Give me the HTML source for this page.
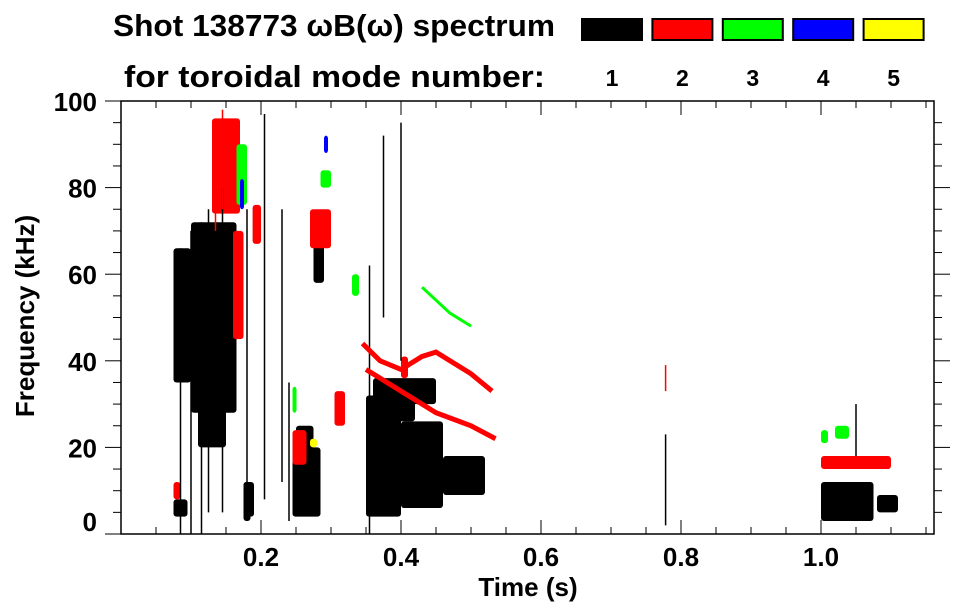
<!DOCTYPE html>
<html><head><meta charset="utf-8"><style>
html,body{margin:0;padding:0;background:#fff;}
svg{display:block;font-family:"Liberation Sans",sans-serif;font-weight:bold;}
</style></head><body>
<svg id="chart" width="963" height="615" viewBox="0 0 963 615" xmlns="http://www.w3.org/2000/svg">
<text x="113" y="36" font-size="31" textLength="442" lengthAdjust="spacingAndGlyphs">Shot 138773 ωB(ω) spectrum</text>
<text x="124" y="87" font-size="31" textLength="421" lengthAdjust="spacingAndGlyphs">for toroidal mode number:</text>
<g id="legend"></g>
<g id="marks"></g>
<g id="axes"></g>
<text x="528" y="596" font-size="26" text-anchor="middle">Time (s)</text>
<text transform="translate(34,316) rotate(-90)" font-size="26" text-anchor="middle">Frequency (kHz)</text>
</svg>
<script>
// data
const modeLabels = ["1","2","3","4","5"];
const modeColors = ["#000000","#ff0000","#00ff00","#0000ff","#ffff00"];
const xTicks = [0.2,0.4,0.6,0.8,1.0];
const xTickLabels = ["0.2","0.4","0.6","0.8","1.0"];
const yTicks = [0,20,40,60,80,100];
// blobs: [mode, t0, t1, f0, f1]
const blobModes = [1,1,1,1,1,1,1,1,1,1,1,1,1,1,1,1, 2,2,2,2,2,2,2,2,2, 3,3,3,3,3,3, 4,4, 5];
const blobT0 = [0.075,0.1,0.11,0.175,0.245,0.25,0.275,0.35,0.40,0.46,0.37,1.0,1.08,0.175,0.075,0.36,
  0.13,0.16,0.188,0.27,0.245,0.305,1.0,0.075,0.4,
  0.165,0.285,0.33,0.245,1.0,1.02,
  0.17,0.29, 0.27];
const blobT1 = [0.1,0.165,0.15,0.185,0.285,0.275,0.29,0.40,0.46,0.52,0.42,1.075,1.11,0.19,0.095,0.45,
  0.17,0.175,0.2,0.3,0.265,0.32,1.1,0.085,0.41,
  0.18,0.3,0.34,0.25,1.01,1.04,
  0.17,0.29, 0.28];
const blobF0 = [35,28,20,3,4,10,58,4,6,9,26,3,5,4,4,30,
  74,45,67,66,16,25,15,8,36,
  76,80,55,28,21,22,
  75,88, 20];
const blobF1 = [66,72,40,12,20,25,70,32,26,18,34,12,9,12,8,36,
  96,70,76,75,24,33,18,12,41,
  90,84,60,34,24,25,
  82,92, 22];
// thin vertical streaks: [mode, t, f0, f1]
const streakModes = [1,1,1,1,1,1,1,1,1,1,1,1,1,1,2,2,2];
const streakT = [0.085,0.1,0.115,0.125,0.145,0.18,0.205,0.23,0.355,0.375,0.4,0.778,0.24,1.05,0.778,0.145,0.135];
const streakF0 = [0,0,0,5,5,3,8,12,0,50,40,2,3,18,33,75,70];
const streakF1 = [66,70,72,75,80,75,97,75,62,92,95,23,35,30,39,98,92];
// mode lines: polylines of (t,f)
const lineModes = [2,2,3];
const lineT = [[0.345,0.37,0.4,0.43,0.45,0.5,0.53],[0.35,0.38,0.42,0.45,0.5,0.535],[0.43,0.45,0.47,0.5]];
const lineF = [[44,40,38,41,42,37,33],[38,35,31,28,25,22],[57,54,51,48]];

const NS="http://www.w3.org/2000/svg";
const L=121,R=934,T=101,B=534;
const xs=t=>261+(t-0.2)*700;
const ys=f=>534-f*4.33;
function mk(tag,attrs,parent){const e=document.createElementNS(NS,tag);for(const k in attrs)e.setAttribute(k,attrs[k]);parent.appendChild(e);return e;}
const legend=document.getElementById('legend'),marks=document.getElementById('marks'),axes=document.getElementById('axes');
modeLabels.forEach((lab,i)=>{
  const x=582+i*70.4;
  const r=mk('rect',{x:x,y:19,width:60,height:21,fill:modeColors[i],stroke:'#000','stroke-width':2},legend);
  
  
  const t=mk('text',{x:x+30,y:86,'font-size':23,'text-anchor':'middle'},legend);t.textContent=lab;
  
  
});
blobModes.forEach((m,i)=>{
  const x0=xs(blobT0[i]),x1=Math.max(xs(blobT1[i]),xs(blobT0[i])+4),y0=ys(blobF1[i]),y1=ys(blobF0[i]);
  const e=mk('rect',{x:x0,y:y0,width:x1-x0,height:y1-y0,rx:3,fill:modeColors[m-1]},marks);
  
  
});
streakModes.forEach((m,i)=>{
  const l=mk('line',{x1:xs(streakT[i]),x2:xs(streakT[i]),y1:ys(streakF0[i]),y2:ys(streakF1[i]),stroke:modeColors[m-1],'stroke-width':1.5},marks);
  
  
});
lineModes.forEach((m,i)=>{
  const p=lineT[i].map((t,j)=>xs(t)+','+ys(lineF[i][j])).join(' ');
  const pl=mk('polyline',{points:p,fill:'none',stroke:modeColors[m-1],'stroke-width':m===2?5:3},marks);
  
  
});
const frame=mk('rect',{x:L,y:T,width:R-L,height:B-T,fill:'none',stroke:'#000','stroke-width':1.5},axes);


for(let t=0.05;t<1.16;t+=0.05){const x=xs(t),big=Math.abs(t*5-Math.round(t*5))<1e-6;const h=big?14:7;
  mk('line',{x1:x,x2:x,y1:B,y2:B-h,stroke:'#000','stroke-width':1},axes);
  mk('line',{x1:x,x2:x,y1:T,y2:T+h,stroke:'#000','stroke-width':1},axes);}
for(let f=5;f<100;f+=5){const y=ys(f),big=f%20===0;const h=big?16:8;
  mk('line',{x1:L,x2:L-h,y1:y,y2:y,stroke:'#000','stroke-width':1},axes);
  mk('line',{x1:R,x2:R+h,y1:y,y2:y,stroke:'#000','stroke-width':1},axes);}
mk('line',{x1:L,x2:L-16,y1:T,y2:T,stroke:'#000'},axes);mk('line',{x1:L,x2:L-16,y1:B,y2:B,stroke:'#000'},axes);
xTicks.forEach((t,i)=>{const e=mk('text',{x:xs(t),y:566,'font-size':26,'text-anchor':'middle'},axes);e.textContent=xTickLabels[i];
  
  });
yTicks.forEach(f=>{const e=mk('text',{x:97,y:Math.min(ys(f)+10,531),'font-size':26,'text-anchor':'end'},axes);e.textContent=String(f);
  
  });
</script>
</body></html>
